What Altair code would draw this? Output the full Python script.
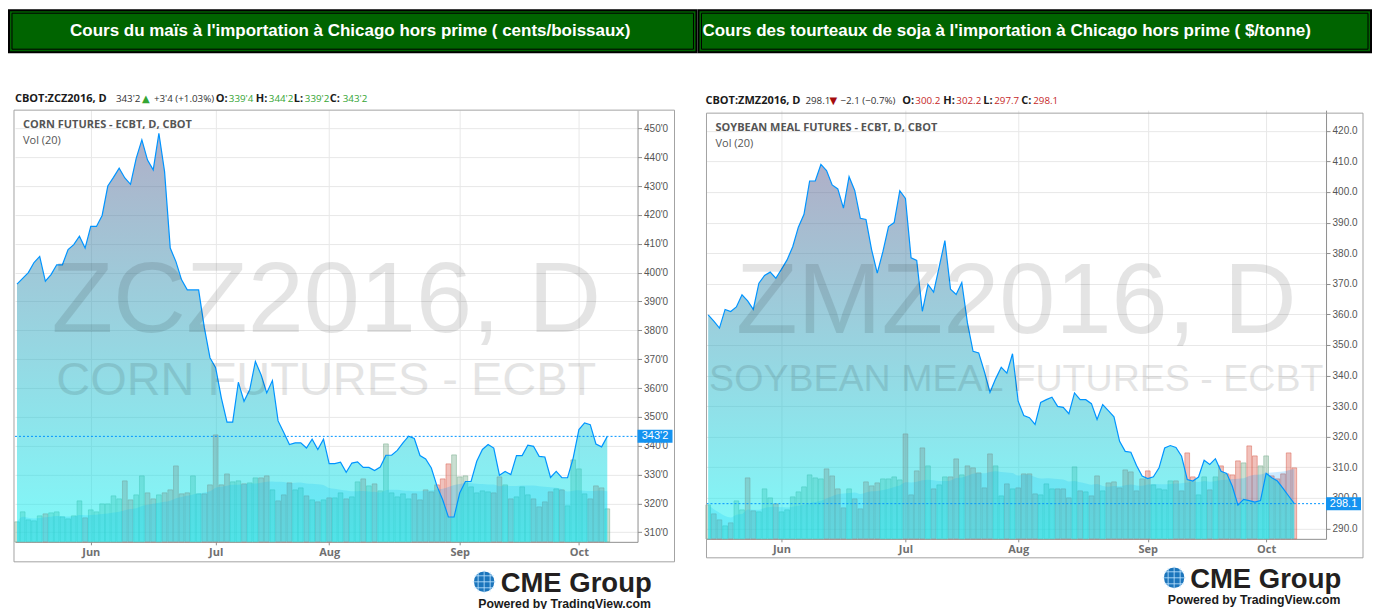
import math
import altair as alt
import pandas as pd

# ------------------------------------------------------------------ data
trading_days = pd.bdate_range("2016-05-12", "2016-10-10")
trading_days = trading_days[~trading_days.isin(pd.to_datetime(["2016-05-30", "2016-07-04", "2016-09-05"]))]

corn_close = [396, 398, 400, 403.5, 405.6, 397, 399.3, 402.7, 402.7, 408,
              409.7, 412.6, 408.5, 416, 416, 419.8, 430, 433, 436.2, 432.8,
              430.6, 439.6, 446, 439, 435.6, 448.3, 435, 408.5, 403.8, 397.5,
              394, 394, 394, 381, 370.5, 367, 356.6, 348.2, 348.2, 362,
              355.4, 359.4, 369.2, 364.6, 358.3, 362.6, 348.6, 344.6, 340.4, 341,
              341, 339.2, 342.3, 338.7, 342.3, 333.8, 333.8, 334.3, 330.8, 334,
              334.4, 332.5, 332.5, 331.4, 332.6, 336.7, 336.7, 338.4, 341, 343.3,
              342.5, 336.6, 335.4, 332.3, 326, 321.3, 315.3, 315.3, 323.6, 327.6,
              327.6, 334.6, 338.7, 340.4, 339.2, 329.8, 331.1, 330, 336.6, 336.6,
              340.2, 339.8, 336.3, 336.1, 329, 331.1, 328.9, 328.9, 335.8, 345.6,
              347.9, 347.3, 340.6, 339.6, 343.25]

corn_volume = [60, 90, 66, 63, 78, 84, 87, 90, 75, 69,
               78, 123, 72, 96, 90, 114, 114, 138, 129, 183,
               126, 141, 198, 147, 129, 141, 147, 156, 228, 144,
               147, 198, 144, 144, 171, 321, 171, 204, 180, 183,
               174, 177, 192, 192, 198, 156, 123, 141, 177, 156,
               162, 138, 126, 120, 126, 132, 132, 147, 129, 135,
               180, 189, 168, 174, 153, 294, 147, 135, 144, 129,
               144, 126, 156, 150, 171, 189, 234, 261, 195, 198,
               165, 147, 153, 150, 147, 195, 171, 129, 135, 165,
               141, 129, 105, 120, 150, 159, 156, 108, 246, 219,
               144, 129, 168, 162, 99]

soy_close = [359.8, 357.8, 355.5, 361.6, 360.9, 362.4, 366.4, 364.4, 361.6, 370.2,
             372.7, 373.8, 371.8, 374.7, 377.8, 382.1, 388.5, 392.7, 403.6, 403.6,
             409, 407, 402.3, 401, 394.7, 405, 400.5, 391.4, 391, 381.1,
             373.5, 380.5, 388.7, 390, 400.4, 397.9, 378.5, 377.6, 361, 369.8,
             367.3, 375.6, 384.1, 368.2, 366.5, 370.4, 357.2, 347.9, 347.4, 341.3,
             334.5, 338.9, 342.7, 340.8, 347.1, 331.6, 326.9, 326.2, 324, 331.2,
             332.1, 332.9, 329.9, 329.6, 327.5, 334.3, 332.1, 332.1, 330.8, 325.6,
             330.5, 328.5, 326.5, 318.5, 315.2, 314.9, 310.6, 307.1, 306.3, 306.9,
             309.8, 316.3, 317.1, 316.5, 313.6, 306, 305.5, 306.8, 312.3, 310.9,
             312.8, 308.7, 308, 303.8, 297.6, 299.5, 299.1, 298.6, 299.1, 308,
             306.6, 305.5, 303.1, 300.6, 298.1]

soy_volume = [34, 25, 19, 13, 16, 38, 29, 61, 28, 27,
              50, 41, 35, 27, 29, 42, 47, 52, 64, 61,
              60, 70, 63, 50, 31, 50, 40, 30, 57, 53,
              56, 60, 60, 62, 59, 105, 44, 68, 91, 73,
              50, 54, 62, 62, 80, 64, 73, 71, 66, 51,
              85, 73, 43, 55, 50, 51, 65, 65, 45, 44,
              55, 50, 50, 50, 41, 72, 48, 47, 43, 63,
              48, 56, 57, 51, 69, 67, 48, 60, 68, 54,
              50, 49, 58, 58, 48, 86, 62, 44, 62, 49,
              62, 73, 65, 64, 78, 76, 93, 83, 73, 83,
              63, 60, 65, 86, 71]

corn_title = "Cours du maïs à l'importation à Chicago hors prime ( cents/boissaux)"
soy_title = "Cours des tourteaux de soja à l'importation à Chicago hors prime ( $/tonne)"

corn_header = ["CBOT:ZCZ2016, D", "343'2", "▲", "+3'4 (+1.03%)", "O:", "339'4",
               "H:", "344'2", "L:", "339'2", "C:", "343'2"]
soy_header = ["CBOT:ZMZ2016, D", "298.1", "▼", "−2.1 (−0.7%)", "O:", "300.2",
              "H:", "302.2", "L:", "297.7", "C:", "298.1"]
header_roles = ["sym", "val", "arrow", "chg", "k", "v", "k", "v", "k", "v", "k", "v"]

corn_name = "CORN FUTURES - ECBT, D, CBOT"
soy_name = "SOYBEAN MEAL FUTURES - ECBT, D, CBOT"
corn_mark = ["ZCZ2016, D", "CORN FUTURES - ECBT"]
soy_mark = ["ZMZ2016, D", "SOYBEAN MEAL FUTURES - ECBT"]

# ------------------------------------------------------------------ layout
corn_header_x = [0, 101, 127, 139, 201, 214, 241, 254, 279, 290, 315, 328]
soy_header_x = [-1, 99, 123, 134, 196, 209, 237, 250, 277, 288, 315, 327]

ONE = pd.DataFrame({"k": [0]})
GREEN, RED = "#34a534", "#c62828"


def t(s, x, y, **kw):
    kw.setdefault("align", "left")
    kw.setdefault("baseline", "middle")
    return alt.Chart(ONE).mark_text(text=s, **kw).encode(x=alt.value(x), y=alt.value(y))


def r(x, x2, y, y2, **kw):
    return alt.Chart(ONE).mark_rect(**kw).encode(
        x=alt.value(x), x2=alt.value(x2), y=alt.value(y), y2=alt.value(y2))


def seg(x, x2, y, y2, **kw):
    return alt.Chart(ONE).mark_rule(**kw).encode(
        x=alt.value(x), x2=alt.value(x2), y=alt.value(y), y2=alt.value(y2))


def globe(cx, cy, rad):
    parts = [alt.Chart(ONE).mark_circle(size=math.pi * rad * rad, color="#1b75bc", opacity=1)
             .encode(x=alt.value(cx), y=alt.value(cy))]
    for d in (-6, 0, 6):
        h = math.sqrt(rad * rad - d * d)
        parts.append(seg(cx - h, cx + h, cy + d, cy + d, color="#bfe3ff", strokeWidth=0.8))
        parts.append(seg(cx + d, cx + d, cy - h, cy + h, color="#bfe3ff", strokeWidth=0.8))
    return parts


def panel(close, volume, vol_max, width, height, ydom, yticks, ylabel_expr,
          xdom, last_label, header, header_x, header_y, up, deco):
    n = len(close)
    df = pd.DataFrame({"idx": list(range(n)),
                       "date": trading_days.strftime("%Y-%m-%d"),
                       "close": close, "volume": volume})
    months = list(trading_days.month)
    tick_idx = [i for i in range(1, n) if months[i] != months[i - 1]]
    tick_lab = [trading_days[i].strftime("%b") for i in tick_idx]
    expr = "".join(f"datum.value == {i} ? '{l}' : " for i, l in zip(tick_idx, tick_lab)) + "''"

    xs = alt.Scale(domain=xdom, nice=False, zero=False)
    xaxis = alt.Axis(values=tick_idx, labelExpr=expr, title=None, grid=True,
                     gridColor="#e8e8e8", domainColor="#8f8f8f", tickColor="#8f8f8f",
                     tickSize=3, labelPadding=2, labelFont="Open Sans", labelFontSize=11,
                     labelFontWeight="bold", labelColor="#707070", labelFlush=False, zindex=0)
    ys = alt.Scale(domain=ydom, nice=False, zero=False)
    yaxis = alt.Axis(orient="right", values=yticks, labelExpr=ylabel_expr, title=None,
                     grid=True, gridColor="#e8e8e8", domainColor="#8f8f8f",
                     tickColor="#8f8f8f", tickSize=4, labelPadding=2,
                     labelFont="Liberation Sans", labelFontSize=10, labelColor="#555555",
                     labelFlush=False, zindex=0)
    vs = alt.Scale(domain=[0, vol_max], nice=False, zero=True)
    Xp = alt.X("idx:Q", scale=xs, axis=xaxis)
    Yp = alt.Y("close:Q", scale=ys, axis=None, stack=None)

    dir_scale = alt.Scale(domain=["up", "down"], range=["#6ba583", "#d75442"])
    bars = (alt.Chart(df)
            .transform_window(prev="lag(close)", sort=[alt.SortField("idx")])
            .transform_calculate(dir="datum.prev == null || datum.close >= datum.prev ? 'up' : 'down'",
                                 x0="datum.idx - 0.42", x1="datum.idx + 0.42")
            .mark_bar(fillOpacity=0.36, strokeOpacity=0.45, strokeWidth=1)
            .encode(x=alt.X("x0:Q", scale=xs, axis=xaxis), x2="x1:Q",
                    y=alt.Y("volume:Q", scale=vs, axis=None, stack=None), y2=alt.value(height),
                    fill=alt.Fill("dir:N", scale=dir_scale, legend=None),
                    stroke=alt.Stroke("dir:N", scale=dir_scale, legend=None)))
    ma = (alt.Chart(df)
          .transform_window(ma="mean(volume)", frame=[-19, 0], sort=[alt.SortField("idx")])
          .mark_area(color="#0094ff", fillOpacity=0.2, interpolate="monotone")
          .encode(x=Xp, y=alt.Y("ma:Q", scale=vs, axis=None, stack=None), y2=alt.value(height)))
    grad = alt.Gradient(gradient="linear",
                        stops=[alt.GradientStop(color="#606090", offset=0),
                               alt.GradientStop(color="#01f6f5", offset=1)],
                        x1=1, x2=1, y1=0, y2=1)
    area = alt.Chart(df).mark_area(color=grad, fillOpacity=0.5).encode(
        x=Xp, y=alt.Y("close:Q", scale=ys, axis=yaxis, stack=None), y2=alt.value(height))
    line = alt.Chart(df).mark_line(color="#0094FF", strokeWidth=1.2).encode(x=Xp, y=Yp)

    last = df.iloc[[-1]]
    rule = alt.Chart(last).mark_rule(color="#0094FF", strokeDash=[2, 2], strokeWidth=1).encode(
        y=Yp, x=alt.value(0), x2=alt.value(width))
    box = alt.Chart(last).mark_tick(orient="horizontal", thickness=13, size=35,
                                    color="#1493f0", opacity=1).encode(
        y=Yp, x=alt.value(width + 17.5))
    boxtxt = alt.Chart(last).mark_text(color="white", fontSize=11, font="Liberation Sans",
                                       align="center", baseline="middle").encode(
        y=Yp, x=alt.value(width + 17.5), text=alt.value(last_label))

    wm = [t(deco["mark"][0], width / 2, deco["wm1"], align="center", baseline="alphabetic",
            font="Liberation Sans", fontSize=deco["wm1s"], color="black", opacity=0.1),
          t(deco["mark"][1], width / 2, deco["wm2"], align="center", baseline="alphabetic",
            font="Liberation Sans", fontSize=deco["wm2s"], color="black", opacity=0.1)]

    hdr = []
    for s, role, x in zip(header, header_roles, header_x):
        kw = dict(font="Open Sans", fontSize=9.8, color="#333333")
        if role in ("sym", "k"):
            kw.update(fontWeight="bold", color="#1a1a1a", fontSize=11)
        elif role == "arrow":
            kw.update(color=GREEN if up else "#a50d0d", fontSize=10, font="DejaVu Sans")
        elif role == "v":
            kw.update(color=GREEN if up else RED)
        hdr.append(t(s, x, header_y, **kw))

    tb = deco["tbar"]
    title_parts = [
        r(tb[0], tb[1], -100, -58, fill="#006400", stroke="#000000", strokeWidth=2),
        r(tb[0] + 3, tb[1] - 3, -97, -61, fillOpacity=0, stroke="#000000", strokeWidth=1),
        t(deco["title"], deco["tx"], -79, align=deco["talign"], font="Liberation Sans",
          fontSize=17, fontWeight="bold", color="white"),
    ]
    fr = deco["frame"]
    frame = r(fr[0], fr[1], fr[2], fr[3], fillOpacity=0, stroke="#a3a3a3", strokeWidth=1)
    names = [t(deco["name"], deco["nx"], deco["ny"], font="Open Sans", fontSize=11,
               fontWeight="bold", color="#555555"),
             t("Vol (20)", deco["nx"], deco["ny"] + 15.5, font="Open Sans", fontSize=11,
               color="#555555")]
    lg = deco["logo"]
    logo = globe(lg[0], lg[1], 11.5) + [
        t("CME Group", lg[2], lg[3], baseline="alphabetic", font="Liberation Sans",
          fontSize=27.5, fontWeight="bold", color="#231f20"),
        t("Powered by TradingView.com", lg[4], lg[5], align="center", font="Liberation Sans",
          fontSize=12.3, fontWeight="bold", color="#1a1a1a")]
    extra = deco.get("extra", [])

    layers = ([bars, ma, area, line] + wm + [rule, box, boxtxt] + hdr + title_parts
              + [frame] + names + logo + extra)
    return alt.layer(*layers).resolve_scale(y="independent").properties(width=width, height=height)


corn_deco = dict(mark=corn_mark, wm1=222, wm1s=101, wm2=285, wm2s=47,
                 tbar=(-6, 682), title=corn_title, tx=335.5, talign="center",
                 frame=(-1, 660, 0, 452), name=corn_name, nx=8, ny=15,
                 logo=(469.5, 472, 486, 482, 550, 494),
                 extra=[r(-7, -6, -102, -101, opacity=0)])
soy_deco = dict(mark=soy_mark, wm1=223, wm1s=101, wm2=281, wm2s=37.6,
                tbar=(-8, 665), title=soy_title, tx=-4, talign="left",
                frame=(0, 657, 3, 448), name=soy_name, nx=9, ny=18.3,
                logo=(468, 468, 484, 478, 548, 490))

left = panel(corn_close, corn_volume, 1296, 623, 432, [306.7, 456.3],
             list(range(310, 451, 10)), "format(datum.value, 'd') + \"'0\"",
             [-0.352, 109.33],
             f"{int(corn_close[-1])}'{round((corn_close[-1] - int(corn_close[-1])) * 8)}",
             corn_header, corn_header_x, -11, True, corn_deco)
right = panel(soy_close, soy_volume, 429, 620, 429, [286.6, 426.76],
              list(range(290, 421, 10)), "format(datum.value, '.1f')",
              [-0.301, 109.63], f"{soy_close[-1]:.1f}",
              soy_header, soy_header_x, -9, False, soy_deco)

chart = (alt.hconcat(left, right, spacing=69, bounds="flush")
         .configure_view(stroke=None)
         .properties(padding=0, autosize=alt.AutoSizeParams(type="pad"), background="white"))

chart.save("out.html", embed_options={"renderer": "svg", "actions": False})
